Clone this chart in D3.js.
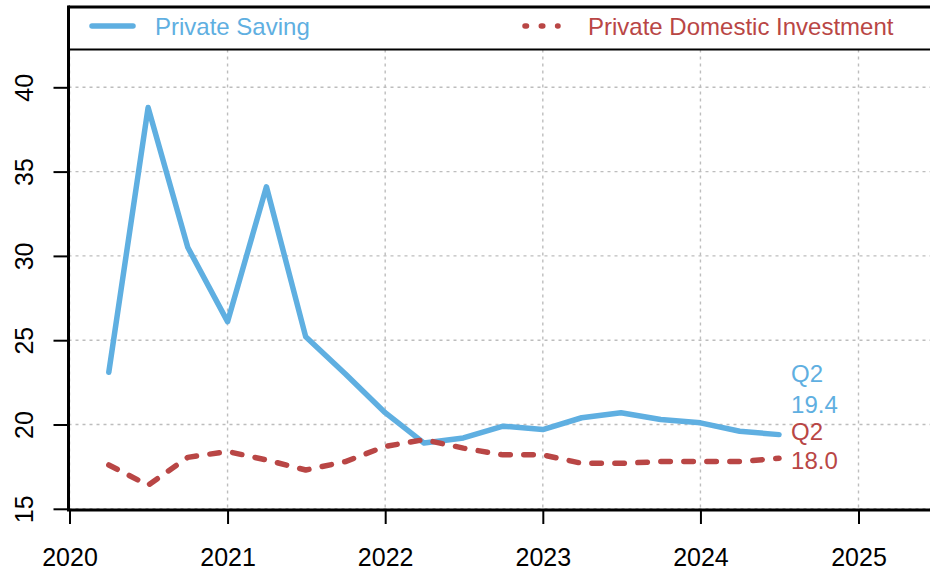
<!DOCTYPE html>
<html><head><meta charset="utf-8">
<script src="https://cdn.jsdelivr.net/npm/d3@7"></script>
<style>
html,body{margin:0;padding:0;background:#fff;}
svg text{font-family:"Liberation Sans",Arial,sans-serif;}
</style></head>
<body>
<svg id="c" width="930" height="573"></svg>
<script>
const quarters = ["2020-04-01","2020-07-01","2020-10-01","2021-01-01","2021-04-01","2021-07-01","2021-10-01","2022-01-01","2022-04-01","2022-07-01","2022-10-01","2023-01-01","2023-04-01","2023-07-01","2023-10-01","2024-01-01","2024-04-01","2024-07-01"];
const privateSaving = [23.1,38.8,30.5,26.1,34.1,25.2,23.0,20.7,18.9,19.2,19.9,19.7,20.4,20.7,20.3,20.1,19.6,19.4];
const privateInvestment = [17.6,16.4,18.05,18.4,17.9,17.3,17.8,18.7,19.1,18.6,18.2,18.2,17.7,17.7,17.8,17.8,17.8,18.0];
const yTicks = [15,20,25,30,35,40];
const xTickYears = [2020,2021,2022,2023,2024,2025];
const seriesNames = ["Private Saving","Private Domestic Investment"];
const lastLabel = "Q2";

(function(){
const blue = "#5fafe1", red = "#b94645";
const svg = d3.select("#c");
const parse = d3.timeParse("%Y-%m-%d");
const dates = quarters.map(parse);

const pLeft = 68.5, pRight = 930, pBottom = 509, pTop = 7, legendBottom = 49.5;
const x = d3.scaleTime()
  .domain([new Date(2020,0,1), new Date(2025,0,1)])
  .range([69.5, 858.5]);
const y = d3.scaleLinear().domain([15,40]).range([508.8, 87.3]);

// gridlines
const grid = svg.append("g").attr("stroke","#bdbdbd").attr("stroke-width",1.4).attr("stroke-dasharray","3,4");
yTicks.forEach(v=>{
  grid.append("line").attr("x1",pLeft).attr("x2",pRight).attr("y1",y(v)).attr("y2",y(v));
});
xTickYears.forEach(yr=>{
  const xx = x(new Date(yr,0,1));
  grid.append("line").attr("x1",xx).attr("x2",xx).attr("y1",legendBottom).attr("y2",pBottom);
});

// lines
const line = d3.line().x((d,i)=>x(dates[i])).y(d=>y(d));
svg.append("path").datum(privateSaving).attr("d",line)
  .attr("fill","none").attr("stroke",blue).attr("stroke-width",5.5)
  .attr("stroke-linejoin","round").attr("stroke-linecap","round");
svg.append("path").datum(privateInvestment).attr("d",line)
  .attr("fill","none").attr("stroke",red).attr("stroke-width",5.5)
  .attr("stroke-linejoin","round").attr("stroke-linecap","round")
  .attr("stroke-dasharray","9.5,13.5");

// end labels
const lx = x(dates[dates.length-1]) + 12;
const ls = privateSaving[privateSaving.length-1];
const li = privateInvestment[privateInvestment.length-1];
const lab = svg.append("g").attr("font-size",24);
lab.append("text").attr("x",lx).attr("y",y(ls)-61+8.5).attr("fill",blue).text(lastLabel);
lab.append("text").attr("x",lx).attr("y",y(ls)-30+8.5).attr("fill",blue).text(ls.toFixed(1));
lab.append("text").attr("x",lx).attr("y",y(li)-27+8.5).attr("fill",red).text(lastLabel);
lab.append("text").attr("x",lx).attr("y",y(li)+2+8.5).attr("fill",red).text(li.toFixed(1));

// legend box
svg.append("rect").attr("x",pLeft).attr("y",pTop).attr("width",pRight-pLeft+5).attr("height",legendBottom-pTop).attr("fill","#fff");
svg.append("line").attr("x1",pLeft).attr("x2",pRight).attr("y1",legendBottom).attr("y2",legendBottom).attr("stroke","#000").attr("stroke-width",2);
svg.append("line").attr("x1",pLeft).attr("x2",pRight).attr("y1",pTop).attr("y2",pTop).attr("stroke","#000").attr("stroke-width",3);
svg.append("line").attr("x1",92).attr("x2",133).attr("y1",26).attr("y2",26).attr("stroke",blue).attr("stroke-width",5.5).attr("stroke-linecap","round");
svg.append("text").attr("x",155).attr("y",35).attr("font-size",24).attr("fill",blue).text(seriesNames[0]);
svg.append("line").attr("x1",525).attr("x2",558).attr("y1",26).attr("y2",26).attr("stroke",red).attr("stroke-width",5.5).attr("stroke-linecap","round").attr("stroke-dasharray","1.5,14.8");
svg.append("text").attr("x",588).attr("y",35).attr("font-size",24).attr("fill",red).text(seriesNames[1]);

// axes
const yAxis = d3.axisLeft(y).tickValues(yTicks).tickSize(15).tickFormat(d3.format("d"));
const gy = svg.append("g").attr("transform",`translate(${pLeft},0)`).call(yAxis);
gy.select(".domain").remove();
gy.selectAll(".tick line").attr("stroke","#000").attr("stroke-width",2);
gy.selectAll(".tick text").attr("font-size",25).attr("fill","#000")
  .attr("text-anchor","middle").attr("transform","rotate(-90)")
  .attr("x",0).attr("y",-36).attr("dy",0);
svg.append("line").attr("x1",pLeft).attr("x2",pLeft).attr("y1",pTop-1.5).attr("y2",pBottom+1.5).attr("stroke","#000").attr("stroke-width",3);

const xAxis = d3.axisBottom(x).tickValues(xTickYears.map(yr=>new Date(yr,0,1))).tickSize(14).tickFormat(d3.timeFormat("%Y"));
const gx = svg.append("g").attr("transform",`translate(0,${pBottom+1})`).call(xAxis);
gx.select(".domain").remove();
gx.selectAll(".tick line").attr("stroke","#000").attr("stroke-width",2);
gx.selectAll(".tick text").attr("font-size",25).attr("fill","#000").attr("y",56).attr("dy",0);
svg.append("line").attr("x1",pLeft-1.5).attr("x2",pRight).attr("y1",pBottom+1).attr("y2",pBottom+1).attr("stroke","#000").attr("stroke-width",3);
})();
</script>
</body></html>
